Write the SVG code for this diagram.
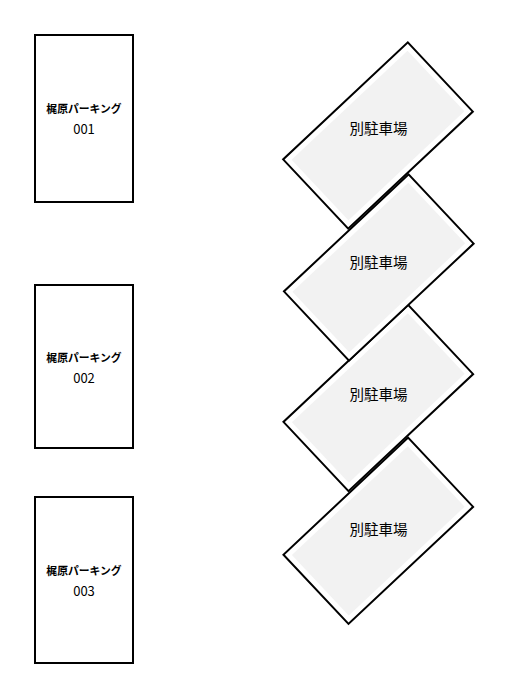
<svg xmlns="http://www.w3.org/2000/svg" width="508" height="695" viewBox="0 0 508 695">
<style>
.box{fill:#ffffff;stroke:#000000;stroke-width:2}
.lbl{font-family:"Noto Sans CJK JP","Noto Sans",sans-serif;font-size:10.8px;font-weight:bold;fill:#000;text-anchor:middle}
.num{font-family:"Noto Sans CJK JP","Noto Sans",sans-serif;font-size:13px;fill:#000;text-anchor:middle}
.outer{fill:#ffffff;stroke:#000000;stroke-width:2}
.inner{fill:#f2f2f2;stroke:none}
.dl{font-family:"Noto Sans CJK JP","Noto Sans",sans-serif;font-size:14.5px;fill:#000;text-anchor:middle}
</style>
<rect width="508" height="695" fill="#ffffff"/>
<g id="connectors"></g>
<g id="parking001">
<rect class="box" x="35" y="35" width="98" height="167"/>
<text class="lbl" x="84" y="113">梶原パーキング</text>
<text class="num" x="84" y="134">001</text>
</g>
<g id="parking002">
<rect class="box" x="35" y="285" width="98" height="163"/>
<text class="lbl" x="84" y="361.5">梶原パーキング</text>
<text class="num" x="84" y="382.5">002</text>
</g>
<g id="parking003">
<rect class="box" x="35" y="497" width="98" height="166"/>
<text class="lbl" x="84" y="575">梶原パーキング</text>
<text class="num" x="84" y="595.5">003</text>
</g>
<g id="betsu4" transform="translate(378.3,530.8) rotate(-43.2)">
<rect class="outer" x="-85.5" y="-47.5" width="171" height="95"/>
<rect class="inner" x="-79.5" y="-41.5" width="159" height="83"/>
</g>
<text class="dl" x="378.5" y="535">別駐車場</text>
<g id="betsu3" transform="translate(378.3,398) rotate(-43.2)">
<rect class="outer" x="-85.5" y="-47.5" width="171" height="95"/>
<rect class="inner" x="-79.5" y="-41.5" width="159" height="83"/>
</g>
<text class="dl" x="378.5" y="400.3">別駐車場</text>
<g id="betsu2" transform="translate(378.8,267.5) rotate(-43.2)">
<rect class="outer" x="-85.5" y="-47.5" width="171" height="95"/>
<rect class="inner" x="-79.5" y="-41.5" width="159" height="83"/>
</g>
<text class="dl" x="378.5" y="268">別駐車場</text>
<g id="betsu1" transform="translate(378,135.5) rotate(-43.2)">
<rect class="outer" x="-85.5" y="-47.5" width="171" height="95"/>
<rect class="inner" x="-79.5" y="-41.5" width="159" height="83"/>
</g>
<text class="dl" x="378.5" y="134.3">別駐車場</text>
</svg>
